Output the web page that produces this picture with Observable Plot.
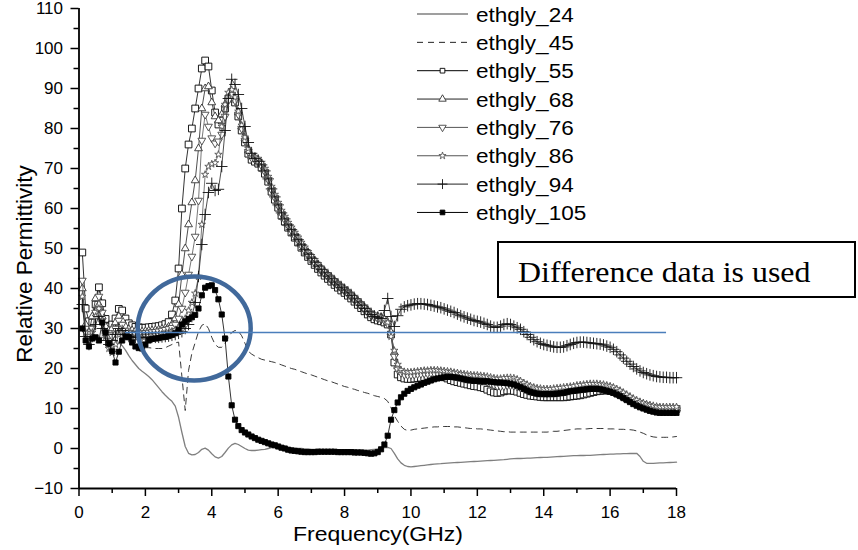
<!DOCTYPE html>
<html><head><meta charset="utf-8">
<script src="https://cdn.jsdelivr.net/npm/d3@7"></script>
<script src="https://cdn.jsdelivr.net/npm/@observablehq/plot@0.6"></script>
<style>body{margin:0;background:#fff}</style>
</head><body><div id="chart"></div>
<script>
const freq = [
0.1,0.2,0.3,0.4,0.5,0.6,0.7,0.8,0.9,1.0,
1.1,1.2,1.3,1.4,1.5,1.6,1.7,1.8,1.9,2.0,
2.1,2.2,2.3,2.4,2.5,2.6,2.7,2.8,2.9,3.0,
3.1,3.2,3.3,3.4,3.5,3.6,3.7,3.8,3.9,4.0,
4.1,4.2,4.3,4.4,4.5,4.6,4.7,4.8,4.9,5.0,
5.1,5.2,5.3,5.4,5.5,5.6,5.7,5.8,5.9,6.0,
6.1,6.2,6.3,6.4,6.5,6.6,6.7,6.8,6.9,7.0,
7.1,7.2,7.3,7.4,7.5,7.6,7.7,7.8,7.9,8.0,
8.1,8.2,8.3,8.4,8.5,8.6,8.7,8.8,8.9,9.0,
9.1,9.2,9.3,9.4,9.5,9.6,9.7,9.8,9.9,10.0,
10.1,10.2,10.3,10.4,10.5,10.6,10.7,10.8,10.9,11.0,
11.1,11.2,11.3,11.4,11.5,11.6,11.7,11.8,11.9,12.0,
12.1,12.2,12.3,12.4,12.5,12.6,12.7,12.8,12.9,13.0,
13.1,13.2,13.3,13.4,13.5,13.6,13.7,13.8,13.9,14.0,
14.1,14.2,14.3,14.4,14.5,14.6,14.7,14.8,14.9,15.0,
15.1,15.2,15.3,15.4,15.5,15.6,15.7,15.8,15.9,16.0,
16.1,16.2,16.3,16.4,16.5,16.6,16.7,16.8,16.9,17.0,
17.1,17.2,17.3,17.4,17.5,17.6,17.7,17.8,17.9,18.0];

const s24 = [
36,30,28.5,28,28,27.8,27.8,27.6,27.5,27.4,
27,26.5,25.7,24.6,23.2,22,21,20,19.3,18.7,
18,17.2,16.2,15.2,14.2,13.3,12.5,11.8,10.6,7.8,
4,0.5,-1.2,-1.6,-1.5,-1,-0.2,0.1,-0.4,-1.3,
-2.1,-2.4,-2,-1,0.1,0.9,1.3,1,0.5,0,
-0.4,-0.5,-0.5,-0.4,-0.3,-0.2,0,0.2,0.3,0.3,
0.3,0.3,0.2,0.2,0.1,0,0,-0.1,-0.1,-0.2,
-0.2,-0.2,-0.3,-0.3,-0.3,-0.3,-0.3,-0.3,-0.3,-0.3,
-0.3,-0.3,-0.3,-0.4,-0.4,-0.4,-0.4,-0.3,-0.2,-0.1,
0,0.2,0.3,0,-1.2,-2.6,-3.6,-4.2,-4.5,-4.6,
-4.5,-4.4,-4.3,-4.2,-4.1,-4,-3.9,-3.85,-3.8,-3.7,
-3.65,-3.6,-3.55,-3.5,-3.45,-3.4,-3.35,-3.3,-3.25,-3.2,
-3.15,-3.1,-3.05,-3,-2.95,-2.9,-2.85,-2.8,-2.7,-2.6,
-2.55,-2.5,-2.5,-2.45,-2.4,-2.4,-2.35,-2.3,-2.25,-2.2,
-2.2,-2.15,-2.1,-2.05,-2,-1.95,-1.9,-1.85,-1.8,-1.8,
-1.75,-1.75,-1.7,-1.7,-1.65,-1.6,-1.55,-1.5,-1.45,-1.4,
-1.4,-1.35,-1.35,-1.3,-1.3,-1.25,-1.25,-1.2,-2,-3.2,
-3.7,-3.7,-3.7,-3.65,-3.6,-3.6,-3.55,-3.5,-3.45,-3.4];

const s45 = [
38,31,29,32,37,41,35,30,27.5,28.5,
30,31.5,30,28.5,27.5,26.5,26,25.5,25.3,25.2,
25.2,25.1,25,25,25,25.2,25.6,26,26.4,26.6,
18,9.5,19.5,23.8,26.5,29.2,30.8,31.2,30,27.8,
26,25.3,25.3,26.3,27.8,29,29.5,29.3,28.2,26.3,
24.3,23.6,23.1,22.7,22.3,22.1,21.9,21.7,21.5,21.2,
20.9,20.6,20.3,20,19.8,19.5,19.2,18.9,18.6,18.4,
18.1,17.8,17.5,17.2,16.9,16.7,16.4,16.1,15.8,15.5,
15.3,15,14.8,14.5,14.3,14,13.8,13.5,13.2,13,
12.8,12.5,11.8,10.2,8.2,6.8,5.6,4.8,4.5,4.6,
4.8,4.9,5,5.1,5.2,5.3,5.4,5.4,5.5,5.5,
5.5,5.5,5.4,5.4,5.3,5.2,5.1,5,5,4.9,
4.9,4.8,4.7,4.6,4.5,4.4,4.3,4.2,4.2,4.1,
4.1,4.1,4.1,4.1,4.1,4.1,4.1,4.1,4.1,4.1,
4.1,4.2,4.3,4.3,4.4,4.5,4.6,4.7,4.8,4.9,
4.9,4.9,4.9,5,5,5,5,5,4.9,4.9,
4.9,4.8,4.8,4.8,4.7,4.7,4.6,4.4,4.1,3.8,
3.4,3.1,2.9,2.8,2.8,2.8,2.8,2.8,2.9,3];

const s55 = [
49,35,31.8,31.5,36,40.3,36.3,32.4,30.5,31,
32.5,34.9,34.5,32.5,31.3,30.8,30.4,30.3,30.2,30.2,
30.3,30.4,30.5,30.6,30.8,31.1,31.6,33.5,37,45,
60,70,76,80,85,90,95,97,95.5,89.5,
84,81,82,85,87.5,88,86.5,83,79.5,76.5,
73.7,72.2,71.7,71.2,70.2,68.7,66.7,64.2,62.2,60.2,
58.2,56.7,55.2,54,52.7,51.5,50.2,49,47.9,46.9,
45.9,44.9,44,43.2,42.4,41.7,40.9,40.2,39.5,38.9,
38.2,37.5,36.7,35.9,35.1,34.3,33.5,32.8,32.3,32,
31.8,31.5,31,28.5,21.5,18.5,17.8,17.5,17.4,17.4,
17.5,17.6,17.7,17.8,17.8,17.9,17.9,17.9,17.9,17.8,
17.5,17.1,16.8,16.6,16.4,16.2,16,15.8,15.6,15.5,
15.3,15.1,14.7,14.3,14,13.9,14,14.3,14.5,14.5,
14.4,14.2,13.9,13.6,13.4,13.2,13.1,13,12.9,12.8,
12.8,12.8,12.8,12.8,12.8,12.8,12.9,13,13.1,13.2,
13.3,13.5,13.7,13.9,14.1,14.3,14.4,14.5,14.5,14.4,
14.2,13.9,13.5,13.1,12.6,12.2,11.8,11.4,11.1,10.8,
10.5,10.3,10.1,10,9.9,9.9,9.9,9.9,9.9,9.9];

const s68 = [
40,31,29,33,37.5,36,33,30.5,29.5,30,
31.5,33,32,30.5,29.8,29.5,29.3,29.2,29.2,29.3,
29.4,29.5,29.6,29.7,29.9,30.1,30.4,31,32.5,36,
43.5,50,56,61.5,67,75,85,90,90.5,86.5,
83,82,83.5,86,88,88.8,87.2,84,80.5,77.5,
74.5,73,72.5,72,71,69.5,67.5,65,63,61,
59,57.5,56,54.8,53.5,52.3,51,49.8,48.7,47.7,
46.7,45.7,44.8,44,43.2,42.5,41.7,41,40.3,39.7,
39,38.3,37.5,36.7,35.9,35.1,34.3,33.6,33.1,32.8,
32.6,32.2,31.4,29,24,20.5,19.2,18.8,18.7,18.7,
18.8,18.9,19,19.1,19.1,19.2,19.2,19.2,19.1,19,
18.9,18.8,18.6,18.5,18.3,18.1,18,17.9,17.8,17.8,
17.7,17.6,17.4,17.1,16.8,16.6,16.6,16.8,16.9,16.9,
16.8,16.6,16.3,15.9,15.5,15.1,14.8,14.6,14.5,14.4,
14.4,14.4,14.4,14.5,14.6,14.7,14.8,15,15.1,15.3,
15.4,15.5,15.6,15.7,15.7,15.7,15.6,15.5,15.3,15.1,
14.8,14.4,14,13.5,13,12.5,12,11.6,11.2,10.9,
10.6,10.4,10.2,10.1,10,10,10,10,10,10];

const s76 = [
42,30,28,30,34,38,34,29,27,28,
30,32,31,29.5,29,28.8,28.7,28.7,28.8,28.9,
29,29.1,29.2,29.3,29.5,29.7,29.9,30.2,31,32.5,
35,39,43.5,48,53,62,77,83.5,80.5,77.6,
76.3,76.8,78.5,83,87,88.5,87,83.5,80,77,
74.2,72.7,72.2,71.7,70.7,69.2,67.2,64.7,62.7,60.7,
58.7,57.2,55.7,54.5,53.2,52,50.7,49.5,48.4,47.4,
46.4,45.4,44.5,43.7,42.9,42.2,41.4,40.7,40,39.4,
38.7,38,37.2,36.4,35.6,34.8,34,33.3,32.8,32.5,
32.3,32,31.2,28.5,23,19.8,18.9,18.5,18.4,18.4,
18.5,18.6,18.7,18.8,18.8,18.9,18.9,18.9,18.8,18.7,
18.5,18.3,18.1,17.9,17.7,17.6,17.5,17.4,17.3,17.3,
17.2,17,16.7,16.3,15.9,15.6,15.5,15.6,15.8,15.8,
15.7,15.5,15.2,14.9,14.6,14.3,14.1,13.9,13.8,13.8,
13.8,13.8,13.9,14,14.1,14.2,14.4,14.5,14.7,14.8,
14.9,15,15.1,15.2,15.2,15.2,15.1,15,14.8,14.6,
14.3,13.9,13.5,13,12.5,12,11.6,11.2,10.8,10.5,
10.2,10,9.8,9.7,9.6,9.6,9.6,9.6,9.6,9.6];

const s86 = [
38,29,27,29,33,35,32,28,25,24,
26,28.5,29,28.5,28,27.8,27.8,27.9,28,28.1,
28.2,28.3,28.4,28.5,28.6,28.8,29,29.3,29.7,30.2,
31,32.5,34.5,36.5,38.8,43,56,68.5,70.5,71.1,
71.4,73.5,80.5,86,89,89.7,87.8,84.3,80.8,77.8,
75,73.5,73,72.5,71.5,70,68,65.5,63.5,61.5,
59.5,58,56.5,55.3,54,52.8,51.5,50.3,49.2,48.2,
47.2,46.2,45.3,44.5,43.7,43,42.2,41.5,40.8,40.2,
39.5,38.8,38,37.2,36.4,35.6,34.8,34.1,33.6,33.3,
33,32.5,31.5,28,24.5,21,19.6,19.2,19.1,19.1,
19.2,19.3,19.4,19.5,19.5,19.6,19.6,19.6,19.5,19.4,
19.3,19.2,19,18.9,18.7,18.6,18.5,18.4,18.3,18.3,
18.2,18.1,18,17.8,17.6,17.5,17.5,17.6,17.7,17.7,
17.6,17.3,16.9,16.4,16,15.6,15.3,15.1,15,14.9,
14.9,14.9,15,15.1,15.2,15.3,15.4,15.5,15.6,15.8,
15.9,16,16.1,16.2,16.2,16.2,16.1,16,15.8,15.6,
15.3,14.9,14.5,14,13.5,13,12.5,12.1,11.7,11.4,
11.1,10.9,10.7,10.5,10.4,10.4,10.4,10.4,10.4,10.4];

const s94 = [
36,28,26,28,31,33,30,27,26,27,
28.5,30,29.5,28.5,28,27.8,27.8,27.8,27.8,27.8,
27.8,27.8,27.8,27.8,27.9,28,28.1,28.3,28.5,28.8,
29.2,30,31,33,36.5,43,51,58.5,64,66.3,
64.5,64.8,70.5,79.5,87.5,92.3,91,88.5,85,80.5,
76.5,73.8,72.5,71.8,70.9,69.4,67.4,64.9,62.9,60.9,
58.9,57.4,55.9,54.7,53.4,52.2,50.9,49.7,48.6,47.6,
46.6,45.6,44.7,43.9,43.1,42.4,41.6,40.9,40.2,39.6,
38.9,38.2,37.4,36.6,35.8,35,34.2,33.5,33,32.7,
32.5,34.5,37.5,33,30.5,33.2,34.8,35.4,35.7,35.9,
36.1,36.2,36.2,36.1,36,35.8,35.6,35.4,35.2,34.9,
34.6,34.3,34,33.6,33.2,32.9,32.6,32.3,32,31.8,
31.6,31.3,31,30.6,30.3,30.3,30.6,31,31.2,31,
30.6,30.2,29.8,29.2,28.5,27.8,27.2,26.7,26.3,26,
25.8,25.6,25.4,25.3,25.3,25.4,25.7,26,26.3,26.5,
26.6,26.6,26.5,26.4,26.3,26.2,26.1,25.9,25.6,25.3,
24.8,24.2,23.4,22.6,21.8,21.1,20.5,19.9,19.4,19,
18.7,18.4,18.2,18,17.9,17.8,17.8,17.7,17.7,17.7];

const s105 = [
30,27,25.5,27.5,27.8,27,31.5,29,26.2,24.3,
21.5,24.2,27,28,27.8,26.5,25.5,25.1,25,26,
27,27.4,27.5,27.6,27.8,27.9,28.1,28.4,28.8,29.7,
31,31.8,32.4,32.8,33.4,35,38.3,40.2,40.6,40.8,
39.6,37.3,33.5,27.5,18,10.8,7.2,5.6,4.6,4,
3.5,3,2.6,2.2,1.9,1.6,1.3,1,0.8,0.5,
0.2,0,-0.3,-0.5,-0.6,-0.7,-0.8,-0.9,-0.9,-0.9,
-0.9,-0.8,-0.8,-0.8,-0.8,-0.8,-0.8,-0.9,-0.9,-0.9,
-0.9,-0.9,-1,-1,-1,-1.1,-1.2,-1.3,-1.2,-0.9,
-0.2,1,3.2,7.2,9.6,11.5,12.8,13.7,14.4,14.9,
15.3,15.7,16,16.4,16.7,17,17.3,17.5,17.7,17.8,
17.9,17.9,17.8,17.7,17.5,17.3,17.1,17,16.9,16.9,
16.8,16.8,16.8,16.7,16.6,16.5,16.5,16.4,16.3,16.2,
16,15.7,15.3,14.9,14.5,14.1,13.9,13.7,13.6,13.6,
13.6,13.6,13.6,13.7,13.8,13.9,14.1,14.3,14.4,14.5,
14.6,14.7,14.8,14.9,14.9,14.9,14.8,14.6,14.4,14.2,
13.9,13.5,13.1,12.6,12.1,11.6,11.1,10.7,10.3,10,
9.7,9.4,9.2,9,8.9,8.9,8.9,8.9,8.9,8.9];

const seriesNames = ["ethgly_24","ethgly_45","ethgly_55","ethgly_68","ethgly_76","ethgly_86","ethgly_94","ethgly_105"];
const seriesValues = [s24, s45, s55, s68, s76, s86, s94, s105];

const xTicks = [0,2,4,6,8,10,12,14,16,18];
const xMinor = [1,3,5,7,9,11,13,15,17];
const yTicks = [-10,0,10,20,30,40,50,60,70,80,90,100,110];
const yMinor = [-5,5,15,25,35,45,55,65,75,85,95,105];

const refLine = [{y: 29, x1: 1.4, x2: 17.7}];
const highlight = [{f: 3.47, v: 30}];
const boxText = "Difference data is used";
const xTitle = "Frequency(GHz)";
const yTitle = "Relative Permittivity";

// custom symbols
const triDown = {draw(ctx, size) {
  const s3 = Math.sqrt(3), y = Math.sqrt(size / (s3 * 3));
  ctx.moveTo(0, 2 * y); ctx.lineTo(-s3 * y, -y); ctx.lineTo(s3 * y, -y); ctx.closePath();
}};
const ellipseSym = {draw(ctx) {
  const rx = 56.5, ry = 52, k = 0.5523;
  ctx.moveTo(rx, 0);
  ctx.bezierCurveTo(rx, ry * k, rx * k, ry, 0, ry);
  ctx.bezierCurveTo(-rx * k, ry, -rx, ry * k, -rx, 0);
  ctx.bezierCurveTo(-rx, -ry * k, -rx * k, -ry, 0, -ry);
  ctx.bezierCurveTo(rx * k, -ry, rx, -ry * k, rx, 0);
  ctx.closePath();
}};

const styles = [
  {line: "#7f7f7f", width: 1.3},
  {line: "#222", width: 0.9, dash: "6,5"},
  {line: "#000", width: 0.8, symbol: "square", r: 3.8, fill: "white", mark: "#000", lsize: 22},
  {line: "#222", width: 0.8, symbol: "triangle", r: 2.9, fill: "white", mark: "#333", lsize: 24},
  {line: "#555", width: 0.8, symbol: triDown, r: 2.9, fill: "white", mark: "#444", lsize: 24},
  {line: "#555", width: 0.8, symbol: "star", r: 2.3, fill: "white", mark: "#555", lsize: 16},
  {line: "#222", width: 0.8, symbol: "plus", r: 3.8, fill: "none", mark: "#111", lsize: 34},
  {line: "#000", width: 0.8, symbol: "square", r: 2.9, fill: "#000", mark: "#000", lsize: 22}
];
const symMap = {square: d3.symbolSquare, triangle: d3.symbolTriangle, star: d3.symbolStar, plus: d3.symbolPlus};

const marks = [];
seriesValues.forEach((vals, i) => {
  const st = styles[i];
  const data = freq.map((f, j) => ({f, v: vals[j], name: seriesNames[i]}));
  marks.push(Plot.line(data, {x: "f", y: "v", stroke: st.line, strokeWidth: st.width, strokeDasharray: st.dash}));
  if (st.symbol) {
    marks.push(Plot.dot(data, {x: "f", y: "v", symbol: st.symbol, r: st.r, fill: st.fill, stroke: st.mark, strokeWidth: 0.9}));
  }
});

const chart = Plot.plot({
  width: 858,
  height: 550,
  marginLeft: 78.5,
  marginRight: 182,
  marginTop: 8,
  marginBottom: 62,
  style: {fontFamily: "'Liberation Sans', Arial, sans-serif", fontSize: "17px", background: "white", color: "black"},
  x: {domain: [0, 18]},
  y: {domain: [-10, 110]},
  marks: [
    ...marks,
    Plot.dot(highlight, {x: "f", y: "v", r: 10, symbol: ellipseSym, fill: "none", stroke: "#41699b", strokeWidth: 4.5}),
    Plot.ruleY(refLine, {y: "y", x1: "x1", x2: "x2", stroke: "#4a7ebb", strokeWidth: 1.6}),
    Plot.axisY({ticks: yTicks, tickSize: 8, tickPadding: 8, fontSize: 17, strokeWidth: 1.5, label: null}),
    Plot.axisY({ticks: yMinor, tickSize: 5, tickFormat: () => "", strokeWidth: 1.5, label: null}),
    Plot.axisX({ticks: xTicks, tickSize: 8, tickPadding: 9, fontSize: 17, strokeWidth: 1.5, label: null}),
    Plot.axisX({ticks: xMinor, tickSize: 5, tickFormat: () => "", strokeWidth: 1.5, label: null}),
    Plot.ruleX([0], {stroke: "black", strokeWidth: 1.8}),
    Plot.ruleY([-10], {stroke: "black", strokeWidth: 1.8})
  ]
});
document.getElementById("chart").appendChild(chart);

const svg = d3.select(chart);
// axis titles
svg.append("text")
  .attr("transform", "translate(378,541) scale(1.15,1)")
  .attr("text-anchor", "middle")
  .attr("font-family", "'Liberation Sans', Arial, sans-serif")
  .attr("font-size", 20)
  .attr("fill", "black")
  .text(xTitle);
svg.append("text")
  .attr("transform", "translate(32,264) rotate(-90)")
  .attr("text-anchor", "middle")
  .attr("font-family", "'Liberation Sans', Arial, sans-serif")
  .attr("font-size", 22.5)
  .attr("fill", "black")
  .text(yTitle);

// legend
const lg = svg.append("g")
  .attr("font-family", "'Liberation Sans', Arial, sans-serif")
  .attr("font-size", 20.5)
  .attr("text-anchor", "start");
seriesNames.forEach((name, i) => {
  const st = styles[i];
  const yy = 14 + i * 28.35;
  lg.append("line")
    .attr("x1", 417).attr("x2", 468).attr("y1", yy).attr("y2", yy)
    .attr("stroke", st.line)
    .attr("stroke-width", i === 0 ? 1.6 : 1)
    .attr("stroke-dasharray", st.dash || null);
  if (st.symbol) {
    const type = typeof st.symbol === "string" ? symMap[st.symbol] : st.symbol;
    lg.append("path")
      .attr("transform", `translate(442.5,${yy})`)
      .attr("d", d3.symbol(type, st.lsize)())
      .attr("fill", st.fill)
      .attr("stroke", st.mark)
      .attr("stroke-width", 0.9);
  }
  lg.append("text")
    .attr("transform", `translate(476,${yy + 7.5}) scale(1.1,1)`)
    .attr("text-anchor", "start")
    .attr("fill", "black")
    .text(name);
});

// annotation box
svg.append("rect")
  .attr("x", 498).attr("y", 242).attr("width", 357).attr("height", 55)
  .attr("fill", "white").attr("stroke", "black").attr("stroke-width", 2);
svg.append("text")
  .attr("transform", "translate(518,282) scale(1.1,1)")
  .attr("text-anchor", "start")
  .attr("font-family", "'Liberation Serif', 'Times New Roman', serif")
  .attr("font-size", 29)
  .attr("fill", "black")
  .text(boxText);
</script>
</body></html>
